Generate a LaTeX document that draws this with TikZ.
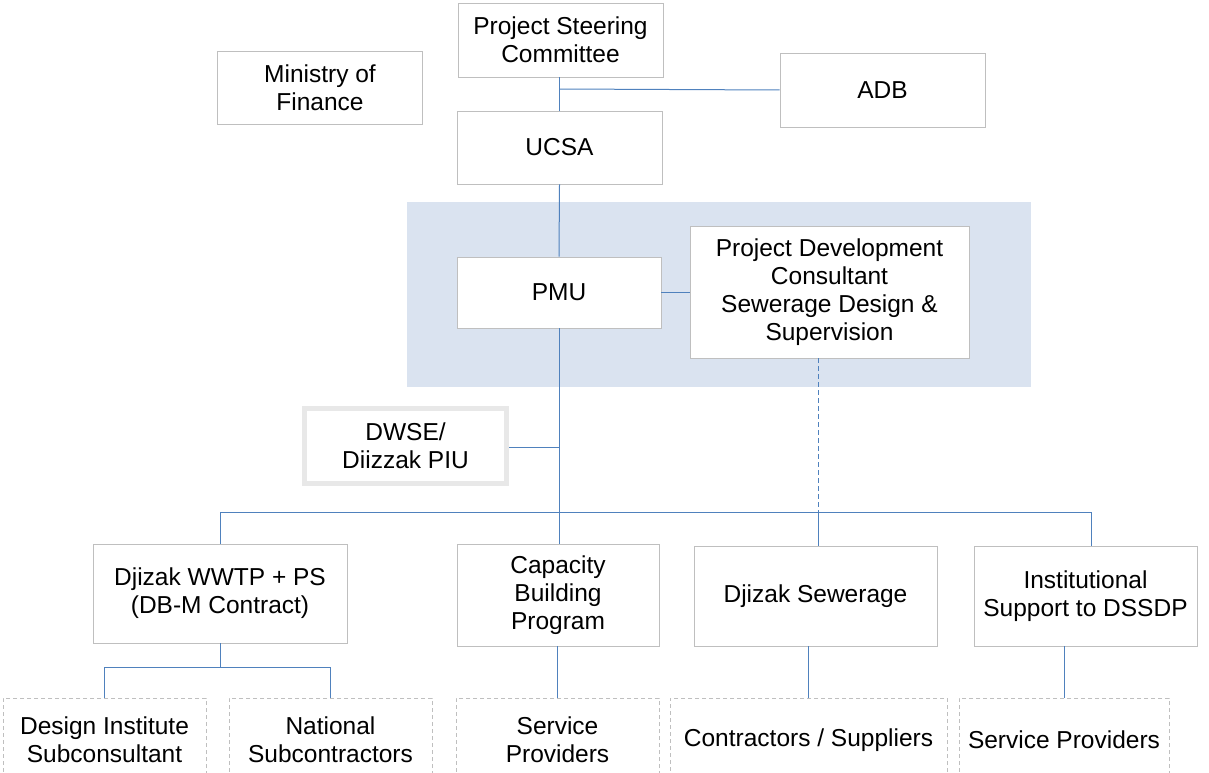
\documentclass[tikz,border=0pt]{standalone}
\usepackage{fontspec}
\setmainfont{Liberation Sans}
\definecolor{boxgray}{HTML}{BFBFBF}
\definecolor{linkblue}{HTML}{4F81BD}
\definecolor{bandblue}{HTML}{DAE3F0}
\definecolor{frame}{HTML}{E8E8E8}
\begin{document}
\begin{tikzpicture}[x=1pt,y=-1pt,
  box/.style={draw=boxgray, line width=0.9pt, fill=white, align=center, inner sep=2pt,
    font=\fontsize{24.5}{28}\selectfont},
  dbox/.style={box, dashed, dash pattern=on 4pt off 3pt},
  link/.style={draw=linkblue, line width=1pt},
  dlink/.style={link, dash pattern=on 5pt off 3pt}]
\useasboundingbox (0,0) rectangle (1209,773);
\begin{scope}
\clip (0,0) rectangle (1209,773);
\fill[bandblue] (407,202) rectangle (1031,387);

\node[box, minimum width=205, minimum height=74] (psc) at (560.5,40) {Project Steering\\Committee};
\node[box, minimum width=205, minimum height=73] (mof) at (320,88) {Ministry of\\Finance};
\node[box, minimum width=205, minimum height=73] (ucsa) at (559.5,147.5) {UCSA};
\node[box, minimum width=205, minimum height=74] (adb) at (882.5,90) {ADB};
\node[box, minimum width=204, minimum height=71] (pmu) at (559,292.5) {PMU};
\node[box, minimum width=279, minimum height=132] (pdc) at (829.5,292) {Project Development\\Consultant\\Sewerage Design \&\\Supervision};
\node[box, draw=frame, line width=5pt, minimum width=202, minimum height=75] (dwse) at (405.5,446) {DWSE/\\Diizzak PIU};

\node[box, minimum width=254, minimum height=99] (wwtp) at (220,593.5) {Djizak WWTP + PS\\(DB-M Contract)};
\node[box, minimum width=202, minimum height=102] (cap) at (558,595) {Capacity\\Building\\Program};
\node[box, minimum width=243, minimum height=100] (sew) at (815.5,596) {Djizak Sewerage};
\node[box, minimum width=223, minimum height=100] (inst) at (1085.5,596) {Institutional\\Support to DSSDP};

\node[dbox, minimum width=203, minimum height=84] (dis) at (104.5,740) {Design Institute\\Subconsultant};
\node[dbox, minimum width=203, minimum height=84] (nat) at (330.5,740) {National\\Subcontractors};
\node[dbox, minimum width=203, minimum height=84] (sp1) at (557.5,740) {Service\\Providers};
\node[dbox, minimum width=277, minimum height=84] (con) at (808.5,740) {Contractors / Suppliers};
\node[dbox, minimum width=210, minimum height=84] (sp2) at (1064,740) {Service Providers};

% top chain
\coordinate (adbj) at (559,89);
\draw[link] (psc.south -| ucsa.north) -- (ucsa.north);
\draw[link] (adbj) -- (adb.west);
\draw[link] (ucsa.south) -- (pmu.north);
\draw[link] (pmu.east) -- (pmu.east -| pdc.west);

% main bus
\coordinate (bl) at (220,512);
\coordinate (br) at (1091,512);
\coordinate (bm) at (559,512);
\coordinate (bs) at (818,512);
\coordinate (dj) at (559,447);
\draw[link] (pmu.south) -- (cap.north -| pmu.south);
\draw[link] (dwse.east |- dj) -- (dj);
\draw[link] (bl) -- (br);
\draw[link] (bl) -- (bl |- wwtp.north);
\draw[link] (br) -- (br |- inst.north);
\draw[link] (bs) -- (bs |- sew.north);
\draw[dlink] (pdc.south -| bs) -- (bs);

% lower links
\coordinate (wj) at (220,667);
\draw[link] (wwtp.south) -- (wj);
\draw[link] (dis.north) -- (dis.north |- wj) -- (nat.north |- wj) -- (nat.north);
\draw[link] (cap.south -| sp1.north) -- (sp1.north);
\draw[link] (sew.south -| con.north) -- (con.north);
\draw[link] (inst.south -| sp2.north) -- (sp2.north);
\end{scope}
\end{tikzpicture}
\end{document}
